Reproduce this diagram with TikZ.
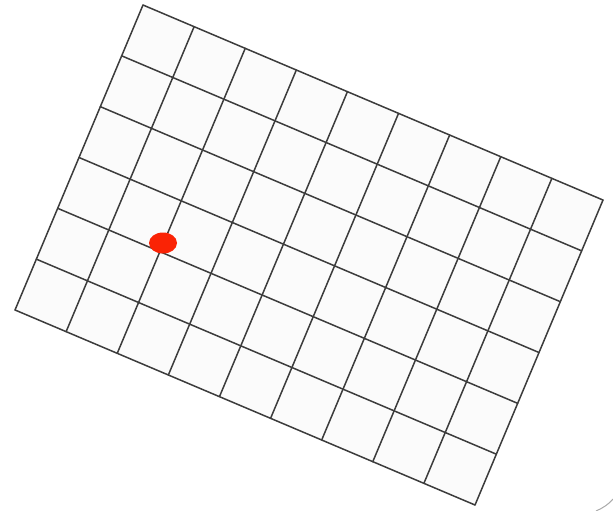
\documentclass[tikz,border=0pt]{standalone}
\usetikzlibrary{calc}
\definecolor{gridline}{RGB}{60,60,60}
\definecolor{cellfill}{RGB}{251,251,251}
\definecolor{dotred}{RGB}{250,35,5}
\definecolor{framegray}{RGB}{170,170,170}
\tikzset{
  gridstroke/.style={draw=gridline, line width=1.5pt, line cap=round, line join=round},
  reddot/.style={fill=dotred, draw=none},
  framestroke/.style={draw=framegray, line width=1pt}
}
\begin{document}
\begin{tikzpicture}[x=1pt,y=-1pt]
\useasboundingbox (0,0) rectangle (613,511);
\coordinate (O) at (143,5);
\coordinate (U) at (51.11,21.67);
\coordinate (V) at (-21.33,50.83);
\coordinate (TR) at ($(O)+9*(U)$);
\coordinate (BL) at ($(O)+6*(V)$);
\coordinate (BR) at ($(O)+9*(U)+6*(V)$);
\fill[cellfill] (O) -- (TR) -- (BR) -- (BL) -- cycle;
\foreach \i in {0,...,9}{
  \draw[gridstroke] ($(O)+\i*(U)$) -- ($(O)+\i*(U)+6*(V)$);
}
\foreach \j in {0,...,6}{
  \draw[gridstroke] ($(O)+\j*(V)$) -- ($(O)+\j*(V)+9*(U)$);
}
\fill[reddot] (163,243) ellipse [x radius=14, y radius=10.5];
\draw[framestroke] (596,511) .. controls (603,508) and (609,504) .. (613,499);
\end{tikzpicture}
\end{document}
